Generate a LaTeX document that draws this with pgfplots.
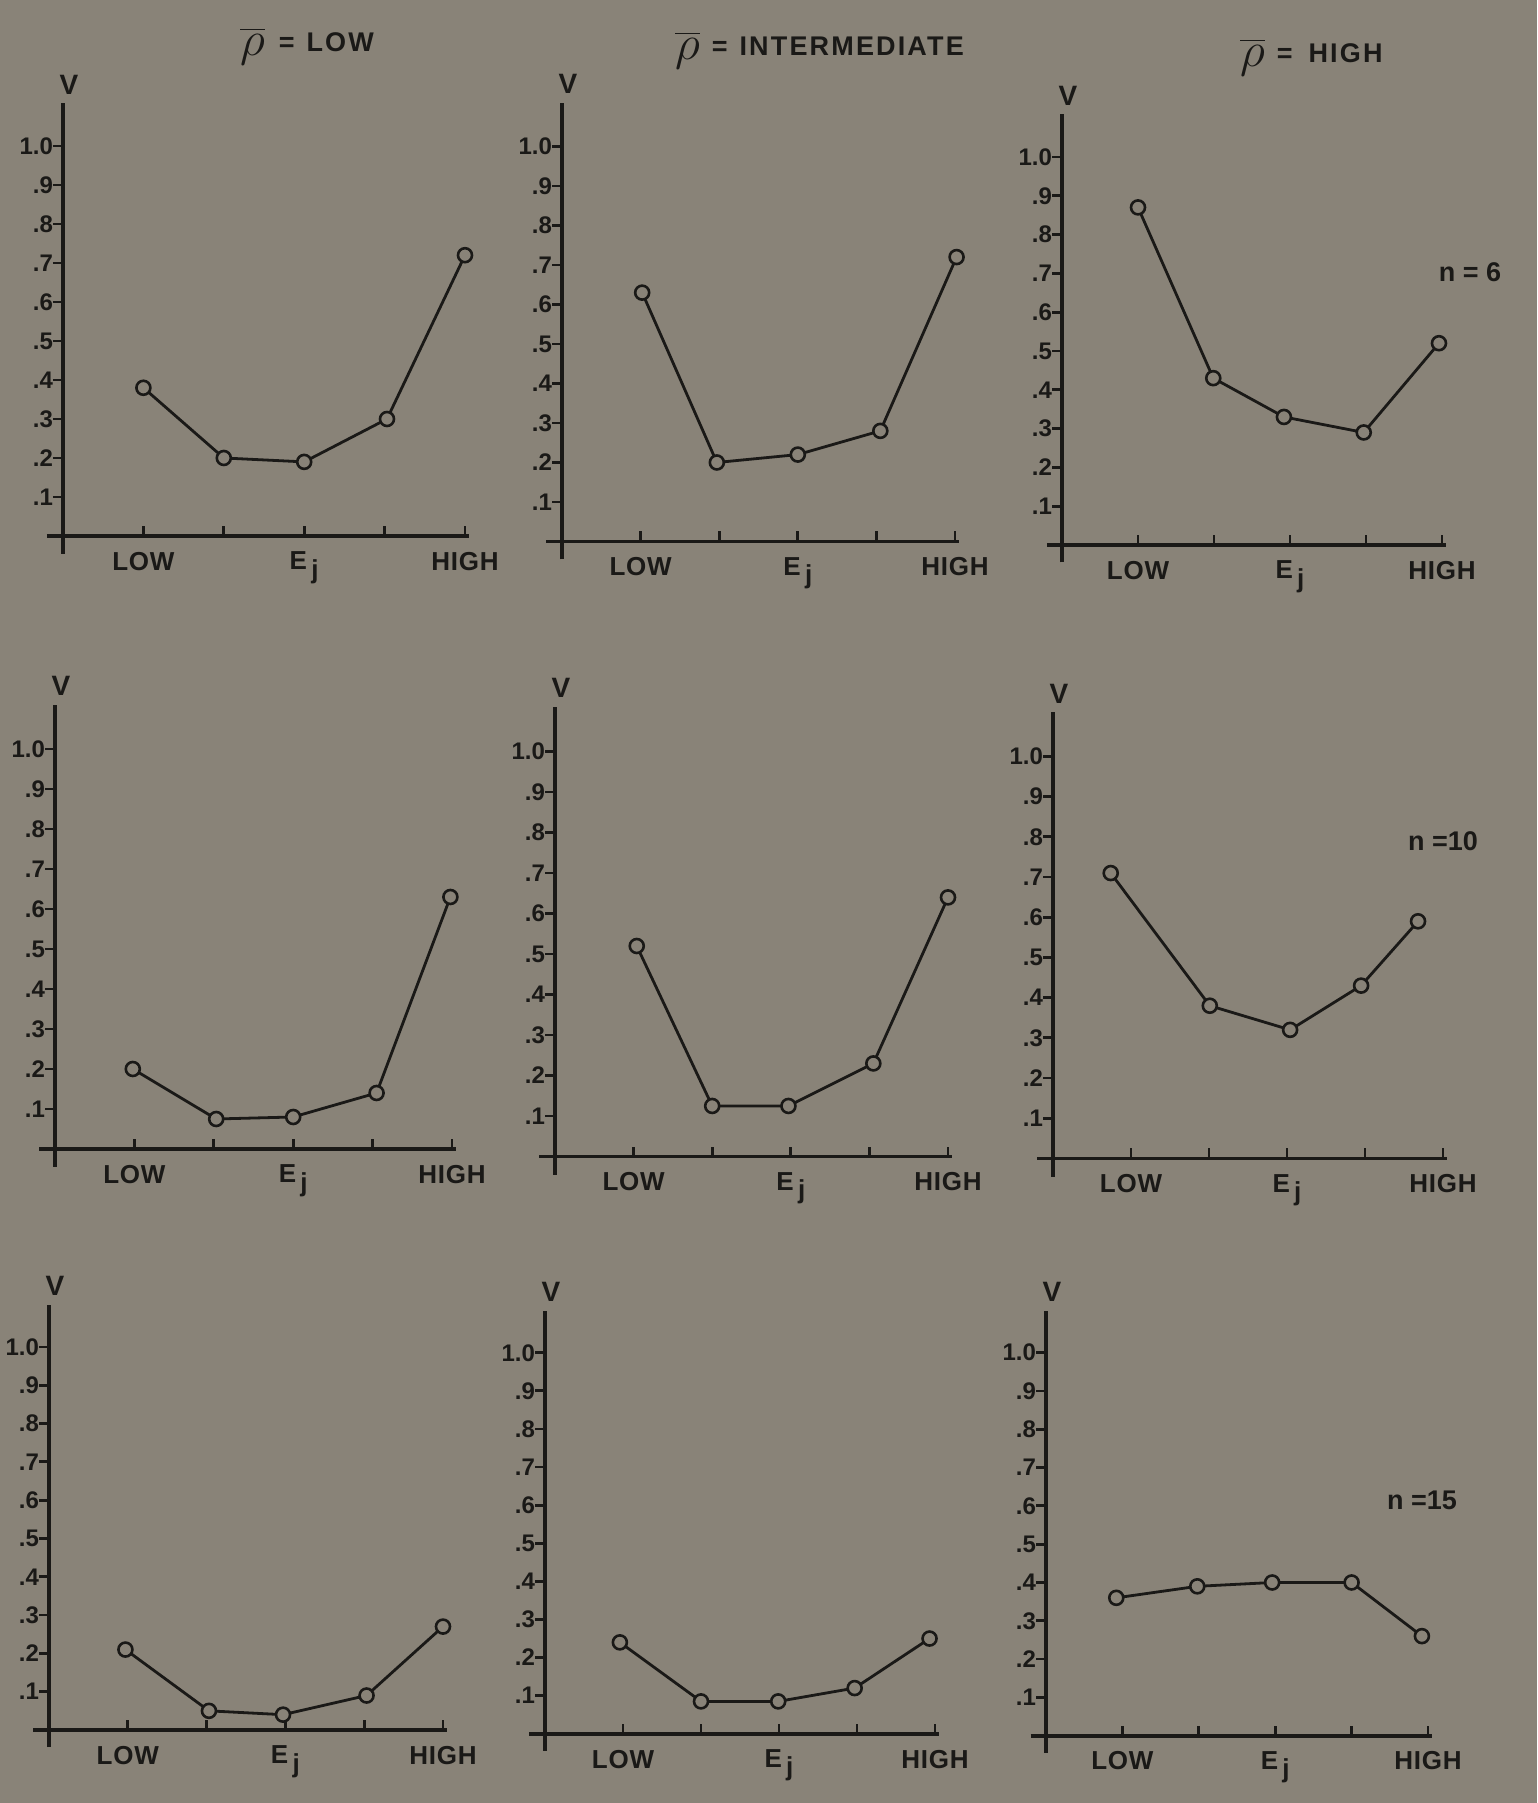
\documentclass[border=0pt]{standalone}
\usepackage{graphicx}
\usepackage{pgfplots}
\pgfplotsset{compat=1.18}
\usepackage{fontspec}
\setmainfont{Liberation Sans}
\newfontfamily\lab[LetterSpace=3]{Liberation Sans Bold}
\newfontfamily\labb{Liberation Sans Bold}
\newfontfamily\ttl[LetterSpace=8]{Liberation Sans Bold}
\definecolor{bg}{RGB}{137,131,120}
\definecolor{ink}{RGB}{26,25,23}

\pgfplotsset{panel/.style={
  anchor=origin, clip=false,
  axis lines=middle,
  axis line style={-, line width=1.9pt, color=ink},
  xmin=-0.2, xmax=5.05, ymin=-0.045, ymax=1.11,
  xtick={1,2,3,4,5},
  xticklabels={LOW,,E\raisebox{-0.6ex}{\,j},,HIGH},
  ytick={0.1,0.2,0.3,0.4,0.5,0.6,0.7,0.8,0.9,1.0},
  yticklabels={.1,.2,.3,.4,.5,.6,.7,.8,.9,1.0},
  tick align=center, major tick length=5pt,
  xtick style={color=ink, line width=1.4pt, yshift=2.5pt},
  ytick style={color=ink, line width=1.4pt, xshift=-2.5pt},
  x tick label style={font=\lab\fontsize{13}{13}\selectfont, text=ink, yshift=-2pt},
  y tick label style={font=\labb\fontsize{12}{12}\selectfont, text=ink, xshift=1pt},
  /pgf/number format/assume math mode=true,
}}
\pgfplotsset{curve/.style={color=ink, line width=1.4pt, mark=*, mark size=3.5pt,
  mark options={fill=bg, draw=ink, line width=1.3pt, solid}}}

% #1 x-pos (pt), #2 y-pos (pt), #3 x unit, #4 y unit, #5 coordinates
\newcommand\panel[5]{%
\begin{axis}[panel, at={(#1pt,#2pt)}, x=#3pt, y=#4pt]
\addplot[curve] coordinates {#5};
\node[anchor=south, font=\labb\fontsize{14}{14}\selectfont, text=ink, yshift=1pt, xshift=3pt] at (axis cs:0,1.11) {V};
\end{axis}}

\newcommand\rhobar{\raisebox{-0.25ex}{\scalebox{1.7}{$\overline{\rho}$}}}

\begin{document}
\begin{tikzpicture}
\fill[bg] (0,0) rectangle (768.5pt,901.5pt);

% row 1 (n = 6)
\panel{31.5}{633.5}{40.2}{195}{(1,0.38) (2,0.20) (3,0.19) (4.03,0.30) (5,0.72)}
\panel{281}{630.75}{39.3}{197.5}{(1.02,0.63) (1.97,0.20) (3,0.22) (4.05,0.28) (5.02,0.72)}
\panel{531}{629}{38}{194}{(1,0.87) (1.99,0.43) (2.92,0.33) (3.97,0.29) (4.96,0.52)}

% row 2 (n = 10)
\panel{27.5}{327}{39.7}{200}{(0.98,0.20) (2.03,0.075) (3,0.08) (4.05,0.14) (4.98,0.63)}
\panel{277.5}{323.2}{39.3}{202.5}{(1.04,0.52) (2,0.125) (2.97,0.125) (4.05,0.23) (5,0.64)}
\panel{526.5}{322.25}{39}{201}{(0.74,0.71) (2.01,0.38) (3.04,0.32) (3.95,0.43) (4.68,0.59)}

% row 3 (n = 15)
\panel{24.5}{36.5}{39.4}{191.5}{(0.97,0.21) (2.03,0.05) (2.97,0.04) (4.03,0.09) (5,0.27)}
\panel{272.5}{34.6}{39}{190.5}{(0.96,0.24) (2,0.085) (2.99,0.085) (3.97,0.12) (4.93,0.25)}
\panel{523}{33.65}{38.2}{191.5}{(0.92,0.36) (1.98,0.39) (2.96,0.40) (4,0.40) (4.92,0.26)}

% column titles
\node[anchor=west, text=ink, font=\ttl\fontsize{13.5}{14}\selectfont] at (116.5pt,878.5pt) {\rhobar\hspace{7pt}=\hspace{6pt}LOW};
\node[anchor=west, text=ink, font=\ttl\fontsize{13.5}{14}\selectfont] at (334pt,876.5pt) {\rhobar\hspace{6pt}=\hspace{6pt}INTERMEDIATE};
\node[anchor=west, text=ink, font=\ttl\fontsize{13.5}{14}\selectfont] at (616.5pt,873pt) {\rhobar\hspace{6pt}=\hspace{8pt}HIGH};

% row labels
\node[text=ink, font=\labb\fontsize{13.5}{14}\selectfont] at (735pt,765.5pt) {n = 6};
\node[text=ink, font=\labb\fontsize{13.5}{14}\selectfont] at (721.5pt,481pt) {n =10};
\node[text=ink, font=\labb\fontsize{13.5}{14}\selectfont] at (711pt,151.5pt) {n =15};

\pgfresetboundingbox
\path (0,0) rectangle (768.5pt,901.5pt);
\end{tikzpicture}
\end{document}
